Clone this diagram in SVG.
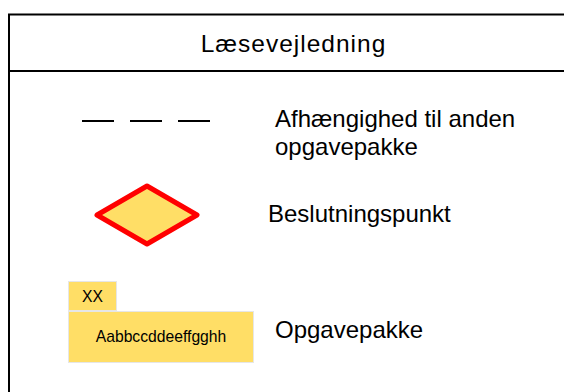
<svg xmlns="http://www.w3.org/2000/svg" width="564" height="392" viewBox="0 0 564 392">
<style>
text{font-family:"Liberation Sans",Arial,sans-serif;fill:#000}
.lbl{font-size:24px}
.title{font-size:24.5px;letter-spacing:1px}
.small{font-size:15.7px}
.frame{fill:none;stroke:#000;stroke-width:2}
.pkg{fill:#FFDE66;stroke:#E6E6E6;stroke-width:1}
</style>
<rect width="564" height="392" fill="#fff"/>
<g id="frame">
<rect class="frame" x="9" y="14.5" width="570" height="400"/>
<line class="frame" x1="9" y1="71" x2="570" y2="71"/>
<text class="title" x="293.5" y="52" text-anchor="middle">Læsevejledning</text>
</g>
<g id="connectors">
<line x1="82" y1="121" x2="210" y2="121" stroke="#000" stroke-width="2" stroke-dasharray="32 16"/>
</g>
<g id="legend-dependency">
<text class="lbl" x="275" y="127">Afhængighed til anden</text>
<text class="lbl" x="275" y="155">opgavepakke</text>
</g>
<g id="decision">
<polygon points="97,215 147,186 197,215 147,244" fill="#FFDE66" stroke="#FF0000" stroke-width="5" stroke-linejoin="round"/>
<text class="lbl" x="268" y="222">Beslutningspunkt</text>
</g>
<g id="package">
<rect class="pkg" x="68.5" y="281.5" width="48" height="29"/>
<text class="small" x="92.5" y="301.5" text-anchor="middle">XX</text>
<rect class="pkg" x="68.5" y="311.5" width="185" height="51"/>
<text class="small" x="161" y="342" text-anchor="middle">Aabbccddeeffgghh</text>
<text class="lbl" x="275" y="338">Opgavepakke</text>
</g>
</svg>
